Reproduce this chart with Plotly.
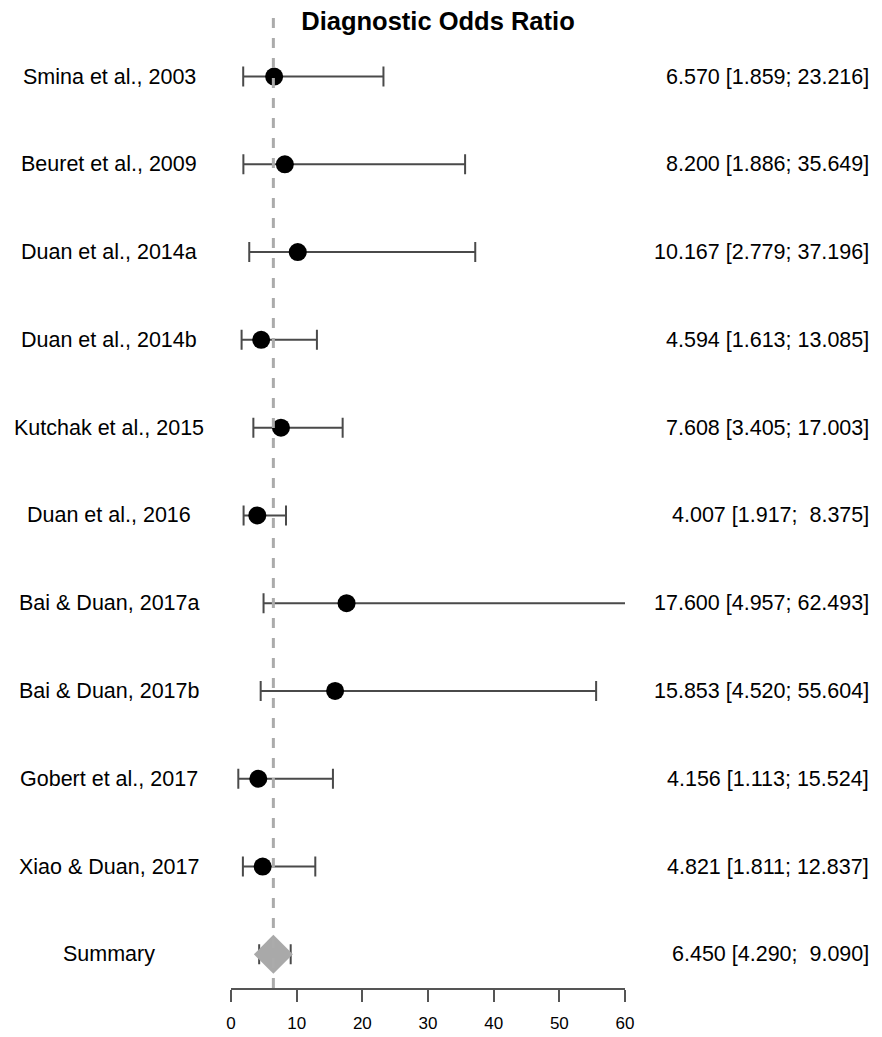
import plotly.graph_objects as go

studies = ["Smina et al., 2003", "Beuret et al., 2009", "Duan et al., 2014a", "Duan et al., 2014b",
           "Kutchak et al., 2015", "Duan et al., 2016", "Bai & Duan, 2017a", "Bai & Duan, 2017b",
           "Gobert et al., 2017", "Xiao & Duan, 2017"]
dor = [6.570, 8.200, 10.167, 4.594, 7.608, 4.007, 17.600, 15.853, 4.156, 4.821]
lower = [1.859, 1.886, 2.779, 1.613, 3.405, 1.917, 4.957, 4.520, 1.113, 1.811]
upper = [23.216, 35.649, 37.196, 13.085, 17.003, 8.375, 62.493, 55.604, 15.524, 12.837]

summary_label = "Summary"
summary_dor = 6.450
summary_lower = 4.290
summary_upper = 9.090

x_ticks = [0, 10, 20, 30, 40, 50, 60]
title_text = "Diagnostic Odds Ratio"

FONT = "Liberation Sans, Arial, Helvetica, sans-serif"
categories = studies + [summary_label]


def fmt(v, lo, hi):
    s_lo = f"{lo:.3f}"
    s_hi = f"{hi:.3f}"
    s_hi = "\u00a0" * (6 - len(s_hi)) + s_hi
    return f"{v:.3f} [{s_lo};\u00a0{s_hi}]"


fig = go.Figure()

fig.add_trace(go.Scatter(
    x=dor, y=studies, mode="markers",
    marker=dict(color="black", size=18, symbol="circle"),
    error_x=dict(type="data", symmetric=False,
                 array=[u - d for u, d in zip(upper, dor)],
                 arrayminus=[d - l for d, l in zip(dor, lower)],
                 color="#4a4a4a", thickness=2, width=10),
    cliponaxis=False, showlegend=False, hoverinfo="skip",
))

fig.add_trace(go.Scatter(
    x=[summary_dor], y=[summary_label], mode="markers",
    marker=dict(color="#a9a9a9", size=30, symbol="diamond", line=dict(width=0)),
    error_x=dict(type="data", symmetric=False,
                 array=[summary_upper - summary_dor],
                 arrayminus=[summary_dor - summary_lower],
                 color="#4a4a4a", thickness=2, width=10),
    cliponaxis=False, showlegend=False, hoverinfo="skip",
))

# vertical dashed reference line at summary estimate
fig.add_shape(type="line", xref="x", yref="paper", x0=summary_dor, x1=summary_dor,
              y0=0, y1=1, layer="above",
              line=dict(color="#ababab", width=3, dash="10px,10px"))

# left labels
for name in categories:
    fig.add_annotation(x=-0.3096, xref="paper", y=name, yref="y", text=name,
                       showarrow=False, xanchor="center", yanchor="middle",
                       font=dict(family=FONT, size=21.5, color="black"))

# right labels
right_texts = [fmt(d, l, u) for d, l, u in zip(dor, lower, upper)] + \
              [fmt(summary_dor, summary_lower, summary_upper)]
for name, txt in zip(categories, right_texts):
    fig.add_annotation(x=1.624, xref="paper", y=name, yref="y", text=txt,
                       showarrow=False, xanchor="right", yanchor="middle",
                       font=dict(family=FONT, size=21.5, color="black"))

W, H = 874, 1029
fig.update_layout(
    width=W, height=H, autosize=False,
    margin=dict(l=223, r=257, t=4, b=43),
    paper_bgcolor="white", plot_bgcolor="white",
    title=dict(text=f"<b>{title_text}</b>", x=(438 - 8) / W, xanchor="center",
               y=1 - 13.5 / H, yanchor="middle", yref="container",
               font=dict(family=FONT, size=25.5, color="black")),
    xaxis=dict(range=[0, 60], tickvals=x_ticks, ticktext=[str(t) for t in x_ticks],
               showgrid=False, zeroline=False, showline=True, linecolor="#555555",
               linewidth=2, ticks="outside", ticklen=12, tickwidth=2, tickcolor="#555555",
               ticklabelstandoff=7,
               tickfont=dict(family=FONT, size=17, color="black"), fixedrange=True),
    yaxis=dict(type="category", categoryorder="array", categoryarray=categories,
               range=[10.384, -0.735], showgrid=False, zeroline=False, showline=False,
               showticklabels=False, ticks="", fixedrange=True),
    showlegend=False,
)

fig.write_html("out.html", config={"displayModeBar": False})
